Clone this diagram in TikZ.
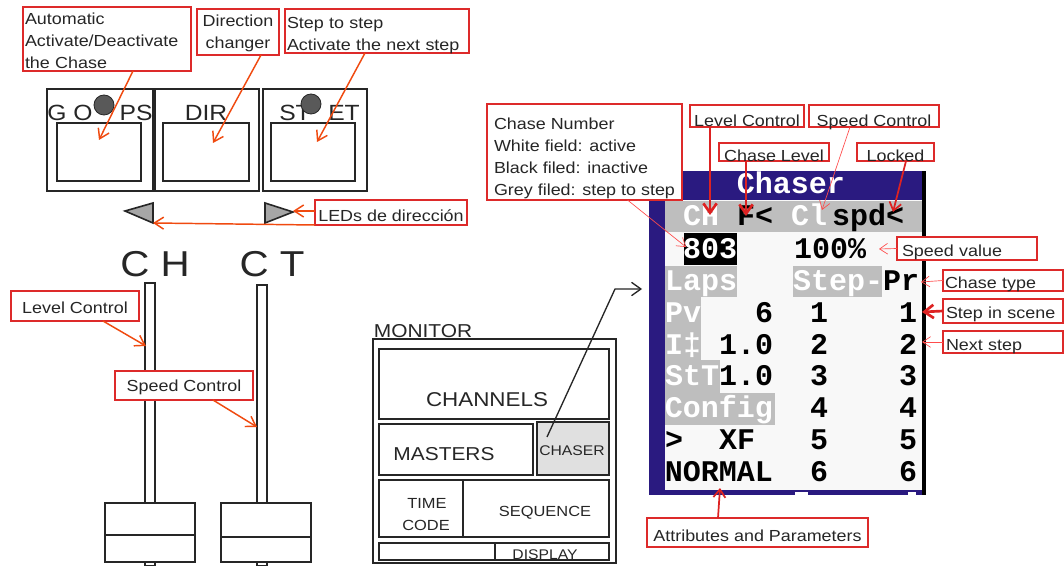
\documentclass[tikz,border=0pt]{standalone}
\usepackage{fontspec}
\setmainfont[FakeStretch=1.12]{Liberation Sans}
\newfontfamily\scrfont[FakeStretch=1.0]{Liberation Mono}
\usetikzlibrary{arrows.meta,calc}
\definecolor{labred}{HTML}{DD2A2A}
\definecolor{arrorange}{HTML}{F04A10}
\definecolor{arrred}{HTML}{DD2222}
\definecolor{ink}{HTML}{262626}
\definecolor{navy}{HTML}{2A1A80}
\definecolor{scrgray}{HTML}{BEBEBE}
\definecolor{scrwhite}{HTML}{F8F8F8}
\tikzset{
  labbox/.style={draw=labred,line width=1.5pt,fill=white,inner sep=0pt,outer sep=0pt},
  labtxt/.style={inner sep=0pt,outer sep=0pt,text=ink,font=\fontsize{12}{16.5}\selectfont},
  shp/.style={draw=ink,line width=1.3pt,fill=white,inner sep=0pt,outer sep=0pt},
  txt/.style={inner sep=0pt,outer sep=0pt,text=ink},
  conn/.style={arrorange,line width=1.1pt,-{Straight Barb[length=7pt,width=9pt]}},
  redthick/.style={arrred,line width=2pt,-{Straight Barb[length=7pt,width=10pt]}},
  redmid/.style={arrred,line width=1.3pt,-{Straight Barb[length=6pt,width=9pt]}},
  redthin/.style={red!70!white,line width=.5pt,-{Straight Barb[length=6pt,width=8pt]}},
  scr/.style={inner sep=0pt,outer sep=0pt,text height=14pt,text depth=0pt,font=\scrfont\bfseries\fontsize{22.5}{24}\selectfont},
}
% the frame of a label: name, x1, y1, x2, y2
\newcommand\labframe[5]{\node[labbox,minimum width={(#4-#2)*0.75pt},minimum height={(#5-#3)*0.75pt}] (#1) at ({(#2+#4)/2},{(#3+#5)/2}) {};}
% [text drop in px] name, x1, y1, x2, y2, text: centred lines
\newcommand\labc[6][0]{\labframe{#2}{#3}{#4}{#5}{#6}\labctext{#1}{#2}}
\newcommand\labctext[3]{\node[labtxt,align=center,yshift=-#1*0.75pt] (#2-t) at (#2) {#3};}
% [text drop] name, x1, y1, x2, y2, text: left-aligned block centred in the frame
\newcommand\labb[6][0]{\labframe{#2}{#3}{#4}{#5}{#6}\labbtext{#1}{#2}}
\newcommand\labbtext[3]{\node[labtxt,align=left,yshift=-#1*0.75pt] (#2-t) at (#2) {#3};}
% [text drop] inset, name, x1, y1, x2, y2, text: left-aligned from the inset
\newcommand\labl[7][0]{\labframe{#3}{#4}{#5}{#6}{#7}\labltext{#1}{#2}{#3}{#4}{#6}}
\newcommand\labltext[6]{\node[labtxt,align=left,text width={(#5-#4-2*#2)*0.75pt},yshift=-#1*0.75pt] (#3-t) at (#3) {#6};}
% [style] x1, y1, x2, y2, name, text
\newcommand\bx[7][]{\node[shp,#1,minimum width={(#4-#2)*0.75pt},minimum height={(#5-#3)*0.75pt}] (#6) at ({(#2+#4)/2},{(#3+#5)/2}) {#7};}
\newcommand\tx[4]{\node[txt,font=\fontsize{#1}{#1}\selectfont] (#2) at (#3) {#4};}
\newcommand\scn[5]{\node[scr,text=#4] (#1) at (#2,#3) {#5};}
\begin{document}
\begin{tikzpicture}[x=0.75pt,y=-0.75pt]
\useasboundingbox (0,0) rectangle (1064,566);
\fill[white] (0,0) rectangle (1064,566);

% ---- buttons
\bx{47}{89}{153}{191}{b1}{}
\bx{155}{89}{259}{191}{b2}{}
\bx{263}{89}{367}{191}{b3}{}
\bx{57}{123}{141}{181}{i1}{}
\bx{163}{123}{249}{181}{i2}{}
\bx{271}{123}{355}{181}{i3}{}
\tx{16.5}{tgo}{70,113}{G O}
\tx{16.5}{tps}{136,113}{PS}
\tx{16.5}{tdir}{206,113}{DIR}
\tx{16.5}{tst}{295,113}{ST}
\tx{16.5}{tet}{344,113}{ET}
\node[circle,fill=black!65,draw=ink,line width=.6pt,minimum size=15pt,inner sep=0pt] (led1) at (104,105) {};
\node[circle,fill=black!65,draw=ink,line width=.6pt,minimum size=15pt,inner sep=0pt] (led2) at (311,104) {};
\draw[ink,line width=1.2pt,fill=black!35] (125,211) -- (153,203) -- (153,223) -- cycle;
\draw[ink,line width=1.2pt,fill=black!35] (265,203) -- (293,212) -- (265,223) -- cycle;
\coordinate (triL) at (153,223);
\coordinate (triR) at (293,211);

\labl[2]{2}{auto}{23}{7}{191}{71}{Automatic\\Activate/Deactivate\\the Chase}
\labc[1]{dirc}{197}{9}{279}{55}{Direction\\changer}
\labl[5]{2}{stp}{285}{9}{469}{53}{Step to step\\Activate the next step}
\labc[3]{leds}{315}{200}{467}{225}{LEDs de dirección}
\coordinate (ta) at (99,140);
\coordinate (td) at (213,143);
\coordinate (ts) at (317,142);
\draw[conn] ([xshift=26*0.75pt]auto.south) -- (ta);
\draw[conn] ([xshift=23*0.75pt]dirc.south) -- (td);
\draw[conn] ([xshift=-12*0.75pt]stp.south) -- (ts);
\draw[conn] ([yshift=1.5*0.75pt]leds.west) -- (triR);
\draw[conn] (leds.south west) -- (triL);

% ---- faders
\tx{27}{tch}{155,264}{C H}
\tx{27}{tct}{272,264}{C T}
\bx{145}{283}{155}{566}{r1}{}
\bx{257}{285}{267}{566}{r2}{}
\bx{105}{503}{195}{562}{k1}{}
\bx{221}{503}{311}{562}{k2}{}
\draw[ink,line width=1.3pt] (k1.west |- 0,535) -- (k1.east |- 0,535);
\draw[ink,line width=1.3pt] (k2.west |- 0,537) -- (k2.east |- 0,537);
\labc[2]{lv}{11}{291}{139}{321}{Level Control}
\labc[2]{sp}{115}{371}{253}{400}{Speed Control}
\coordinate (tl) at (146,346);
\coordinate (tsp) at (257,427);
\draw[conn] ([xshift=28*0.75pt]lv.south) -- (tl);
\draw[conn] ([xshift=29*0.75pt]sp.south) -- (tsp);

% ---- monitor
\tx{14}{tmon}{423,331}{MONITOR}
\bx{373}{339}{616}{563}{mon}{}
\bx{379}{349}{609}{419}{chan}{}
\bx{379}{424}{533}{475}{mast}{}
\bx[fill=black!12]{537}{422}{609}{475}{chas}{}
\bx{379}{480}{463}{537}{tc}{}
\bx{463}{480}{609}{537}{seq}{}
\bx{379}{543}{609}{560}{bot}{}
\draw[ink,line width=1.3pt] (495,543) -- (495,560);
\tx{15}{tchan}{487,400}{CHANNELS}
\tx{14}{tmast}{444,454}{MASTERS}
\tx{10.5}{tchas}{572,451}{CHASER}
\tx{11}{ttime}{427,503}{TIME}
\tx{11}{tcode}{426,525}{CODE}
\tx{11}{tseq}{545,513}{SEQUENCE}
\tx{10.5}{tdisp}{545,555}{DISPLAY}
\coordinate (mid) at (615,289);
\coordinate (mend) at (642,289);
\coordinate (mst) at (547,437);
\draw[ink,line width=1pt,-{Straight Barb[length=7pt,width=10pt]}] (mst) -- (mid) -- (mend);

% ---- chaser screen
\fill[navy] (649,171) rectangle (926,495);
\fill[scrwhite] (665,200) rectangle (922,490);
\fill[black] (922,171) rectangle (926,495);
\fill[scrgray] (665,201) rectangle (922,232);
\fill[black] (684,233) rectangle (737,265);
\fill[scrgray] (665,266) rectangle (737,297);
\fill[scrgray] (793,266) rectangle (882,297);
\fill[scrgray] (665,297) rectangle (701,360);
\fill[scrgray] (665,360) rectangle (720,393);
\fill[scrgray] (665,393) rectangle (775,425);
\fill[white] (795,492) rectangle (808,495);
\fill[white] (908,492) rectangle (916,495);
\scn{s0}{791}{184}{white}{Chaser}
\scn{s1}{701}{216}{white}{CH}
\scn{s2}{755}{216}{black}{F<}
\scn{s3}{809}{216}{white}{Cl}
\scn{s4}{868}{216}{black}{spd<}
\scn{s5}{710}{249}{white}{803}
\scn{s6}{830}{249}{black}{100\%}
\scn{s7}{701}{281}{white}{Laps}
\scn{s8}{838}{281}{white}{Step-}
\scn{s9}{901}{281}{black}{Pr}
\scn{s10}{683}{313}{white}{Pv}
\scn{s11}{764}{313}{black}{6}
\scn{s12}{819}{313}{black}{1}
\scn{s13}{908}{313}{black}{1}
\scn{s14}{683}{345}{white}{I‡}
\scn{s15}{746}{345}{black}{1.0}
\scn{s16}{819}{345}{black}{2}
\scn{s17}{908}{345}{black}{2}
\scn{s18}{692}{376}{white}{StT}
\scn{s19}{746}{376}{black}{1.0}
\scn{s20}{819}{376}{black}{3}
\scn{s21}{908}{376}{black}{3}
\scn{s22}{719}{408}{white}{Config}
\scn{s23}{819}{408}{black}{4}
\scn{s24}{908}{408}{black}{4}
\scn{s25}{674}{440}{black}{>}
\scn{s26}{737}{440}{black}{XF}
\scn{s27}{819}{440}{black}{5}
\scn{s28}{908}{440}{black}{5}
\scn{s29}{719}{472}{black}{NORMAL}
\scn{s30}{819}{472}{black}{6}
\scn{s31}{908}{472}{black}{6}

% ---- chaser labels
\labb[6]{num}{487}{104}{682}{200}{Chase Number\\White field: active\\Black filed: inactive\\Grey filed: step to step}
\labc[5]{lc}{690}{105}{804}{127}{Level Control}
\labc[6]{scc}{809}{105}{939}{127}{Speed Control}
\labc[4]{cl}{719}{143}{829}{161}{Chase Level}
\labc[4]{lk}{857}{143}{934}{161}{Locked}
\labl[4]{5}{sv}{897}{237}{1037}{260}{Speed value}
\labl[4]{2}{ct}{943}{270}{1063}{291}{Chase type}
\labl[3]{3}{sis}{943}{299}{1063}{323}{Step in scene}
\labl[5]{3}{ns}{943}{331}{1063}{353}{Next step}
\labc[3]{ap}{647}{518}{868}{547}{Attributes and Parameters}
\coordinate (e1) at (710,215);
\coordinate (e2) at (746,216);
\coordinate (e3) at (822,210);
\coordinate (e4) at (893,212);
\coordinate (e5) at (686,247);
\coordinate (e6) at (879,249);
\coordinate (e7) at (921,282);
\coordinate (e8) at (922,312);
\coordinate (e9) at (922,342);
\coordinate (e10) at (720,488);
\draw[redthick] ([xshift=-37*0.75pt]lc.south) -- (e1);
\draw[redthick] ([xshift=-28*0.75pt]cl.south) -- (e2);
\draw[redthin] ([xshift=-24*0.75pt]scc.south) -- (e3);
\draw[redmid] ([xshift=10.5*0.75pt]lk.south) -- (e4);
\draw[redthin] ([xshift=43*0.75pt]num.south) -- (e5);
\draw[redthin] (sv.west) -- (e6);
\draw[redthin] (ct.west) -- (e7);
\draw[redthick] (sis.west) -- (e8);
\draw[redthin] (ns.west) -- (e9);
\draw[redmid] ([xshift=-39.5*0.75pt]ap.north) -- (e10);
\end{tikzpicture}
\end{document}
